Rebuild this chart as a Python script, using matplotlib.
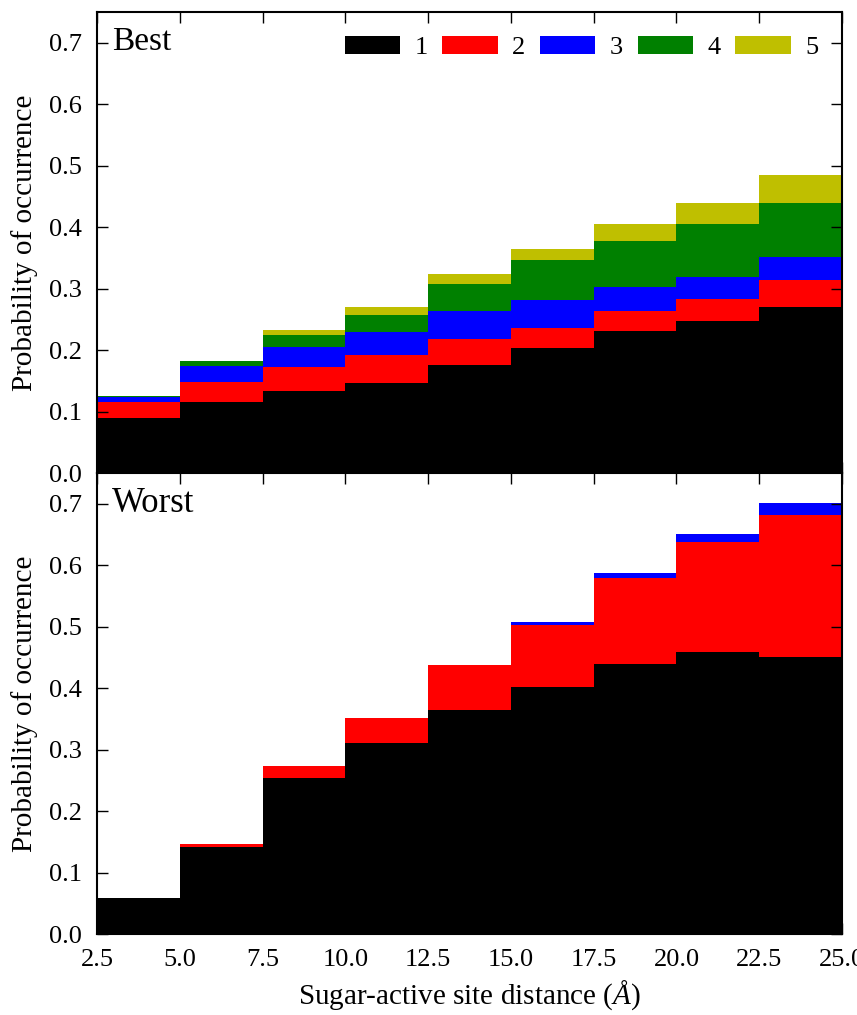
import matplotlib
matplotlib.use('Agg')
from matplotlib import pyplot as plt
import numpy as np

plt.rcParams['font.family'] = ['Liberation Serif', 'DejaVu Serif']
plt.rcParams['mathtext.fontset'] = 'custom'
plt.rcParams['mathtext.rm'] = 'Liberation Serif'
plt.rcParams['mathtext.it'] = 'Liberation Serif:italic'

# bin left edges (Angstrom), width 2.5
edges = [2.5, 5.0, 7.5, 10.0, 12.5, 15.0, 17.5, 20.0, 22.5]
ticks = [2.5, 5.0, 7.5, 10.0, 12.5, 15.0, 17.5, 20.0, 22.5, 25.0]
groups = ['1', '2', '3', '4', '5']
colors = ['k', 'r', 'b', 'g', 'y']

# Best: probability per group, stacked
best_1 = [0.090, 0.116, 0.134, 0.146, 0.176, 0.204, 0.231, 0.247, 0.270]
best_2 = [0.025, 0.033, 0.038, 0.046, 0.042, 0.032, 0.032, 0.037, 0.045]
best_3 = [0.009, 0.025, 0.033, 0.038, 0.045, 0.046, 0.040, 0.035, 0.037]
best_4 = [0.001, 0.008, 0.019, 0.027, 0.045, 0.064, 0.075, 0.087, 0.087]
best_5 = [0.000, 0.000, 0.009, 0.014, 0.016, 0.019, 0.028, 0.034, 0.046]

# Worst
worst_1 = [0.058, 0.141, 0.254, 0.311, 0.365, 0.402, 0.440, 0.459, 0.450]
worst_2 = [0.001, 0.005, 0.020, 0.041, 0.072, 0.101, 0.139, 0.179, 0.231]
worst_3 = [0.000, 0.000, 0.000, 0.000, 0.001, 0.004, 0.008, 0.013, 0.020]
worst_4 = [0.0] * 9
worst_5 = [0.0] * 9

fig, (ax1, ax2) = plt.subplots(2, 1, sharex=True, figsize=(8.57, 10.15), dpi=100)
fig.subplots_adjust(left=0.1132, right=0.9825, top=0.988, bottom=0.0798, hspace=0)


def stack(ax, layers):
    bottom = np.zeros(len(edges))
    for vals, c, g in zip(layers, colors, groups):
        ax.bar(edges, vals, width=2.5, bottom=bottom, align='edge',
               color=c, linewidth=0, label=g)
        bottom = bottom + np.array(vals)


stack(ax1, [best_1, best_2, best_3, best_4, best_5])
stack(ax2, [worst_1, worst_2, worst_3, worst_4, worst_5])

for ax in (ax1, ax2):
    ax.set_xlim(2.5, 25.0)
    ax.set_ylim(0, 0.75)
    ax.set_yticks([0.0, 0.1, 0.2, 0.3, 0.4, 0.5, 0.6, 0.7])
    ax.set_xticks(ticks)
    ax.tick_params(direction='in', top=True, right=True, length=8, width=1,
                   labelsize=19, pad=11)
    ax.set_ylabel('Probability of occurrence', fontsize=21, labelpad=8)
    for s in ax.spines.values():
        s.set_linewidth(1.5)

ax1.tick_params(labelbottom=False)
ax2.set_xticklabels(['%.1f' % t for t in ticks])
ax2.set_xlabel('Sugar-active site distance ($Å$)', fontsize=21, labelpad=5)
fig.align_ylabels([ax1, ax2])

ax1.text(0.02, 0.935, 'Best', transform=ax1.transAxes, fontsize=24, va='center')
ax2.text(0.02, 0.935, 'Worst', transform=ax2.transAxes, fontsize=25, va='center')

ax1.legend(loc='upper right', ncol=5, frameon=False, fontsize=19,
           handlelength=2.1, handleheight=0.65, handletextpad=0.55,
           columnspacing=0.55, borderaxespad=0.5)

plt.savefig('out.png', dpi=100)
